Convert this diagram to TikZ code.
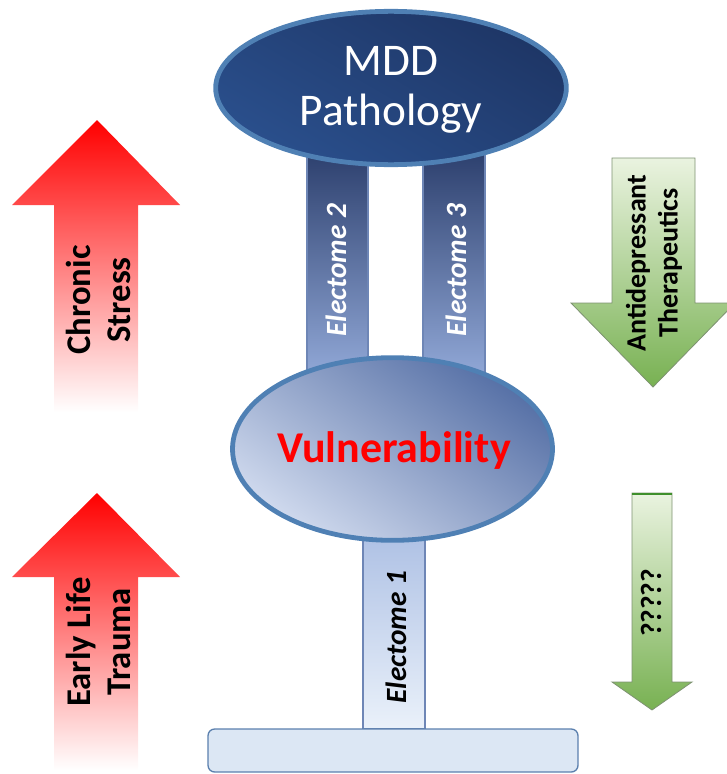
\documentclass[tikz,border=0pt]{standalone}
\usepackage{fontspec}
\setmainfont{Carlito}
\usetikzlibrary{shapes.geometric}

\definecolor{navyDark}{HTML}{1E3666}
\definecolor{navyMid}{HTML}{2A4F8C}
\definecolor{rimBlue}{HTML}{4F80B4}
\definecolor{pillarTop}{HTML}{2C3F6D}
\definecolor{pillarBot}{HTML}{93AAD9}
\definecolor{pillarEdge}{HTML}{6E86B6}
\definecolor{vulDark}{HTML}{5670A6}
\definecolor{vulLight}{HTML}{D0DAEE}
\definecolor{stemTop}{HTML}{ADC0E4}
\definecolor{stemBot}{HTML}{EAF1FA}
\definecolor{baseFill}{HTML}{DCE7F4}
\definecolor{baseEdge}{HTML}{5B80AE}
\definecolor{greenLight}{HTML}{EAF3E0}
\definecolor{greenDark}{HTML}{78B152}
\definecolor{greenEdge}{HTML}{7E9272}
\definecolor{greenRim}{HTML}{3F8F2C}
\definecolor{alarmRed}{HTML}{FF0000}

\tikzset{
  pillar/.style={draw=pillarEdge, line width=0.8pt, top color=pillarTop, bottom color=pillarBot},
  stem/.style={draw=pillarEdge, line width=0.8pt, top color=stemTop, bottom color=stemBot},
  bubble/.style={ellipse, draw=rimBlue, line width=3.6pt, inner sep=0pt},
  redarrow/.style={top color=alarmRed, bottom color=white},
  greenarrow/.style={draw=greenEdge, line width=0.6pt, top color=greenLight, bottom color=greenDark},
  pillartext/.style={rotate=90, font=\fontsize{22}{26}\selectfont\bfseries\itshape},
  sidetext/.style={rotate=90, align=center, font=\fontsize{26}{30}\selectfont\bfseries},
}

\begin{document}
\begin{tikzpicture}[x=0.75pt, y=-0.75pt]
\useasboundingbox (0,0) rectangle (727,774);

% pillars between the two levels
\path[pillar] (307,150) rectangle (368,380);
\path[pillar] (423,150) rectangle (485,380);
\path[stem] (363,530) rectangle (425,729);

% base plate
\path[draw=baseEdge, line width=1pt, fill=baseFill, rounded corners=5pt] (208,729) rectangle (578,772);

% top and middle ellipses
\node[bubble, minimum width=263pt, minimum height=115pt,
      top color=navyDark, bottom color=navyMid, shading angle=-30] (mdd) at (391,88) {};
\node[bubble, minimum width=240pt, minimum height=137pt,
      top color=vulDark, bottom color=vulLight, shading angle=-35] (vul) at (392.5,449) {};

\node[text=white, align=center, font=\fontsize{34}{37.5}\selectfont] (mddtext) at (391,90) {MDD\\Pathology};
\node[text=alarmRed, font=\fontsize{33}{36}\selectfont\bfseries] (vultext) at (394,451) {Vulnerability};

\node[pillartext, text=white] (e2) at (336,270) {Electome 2};
\node[pillartext, text=white] (e3) at (456,270) {Electome 3};
\node[pillartext, text=black] (e1) at (396,637) {Electome 1};

% red arrows on the left
\path[redarrow] (97,120) -- (180,205) -- (138,205) -- (138,412) -- (54,412) -- (54,205) -- (12,205) -- cycle;
\path[redarrow] (97,493) -- (180,577) -- (138,577) -- (138,770) -- (54,770) -- (54,577) -- (12,577) -- cycle;
\node[sidetext] (stress) at (98,300) {Chronic\\Stress};
\node[sidetext] (trauma) at (98,642) {Early Life\\Trauma};

% green arrows on the right
\path[greenarrow] (612,158) -- (695,158) -- (695,303) -- (735,303) -- (653,387) -- (571,303) -- (612,303) -- cycle;
\path[greenarrow] (632,493) -- (672,493) -- (672,682) -- (692,682) -- (652,710) -- (612,682) -- (632,682) -- cycle;
\draw[greenRim, line width=2pt] (632,494) -- (672,494);
\node[rotate=90, align=center, font=\fontsize{21}{24}\selectfont\bfseries] (therapy) at (654,263) {Antidepressant\\Therapeutics};
\node[rotate=90, font=\fontsize{22}{26}\selectfont\bfseries] (unknown) at (651,603) {?????};
\end{tikzpicture}
\end{document}
